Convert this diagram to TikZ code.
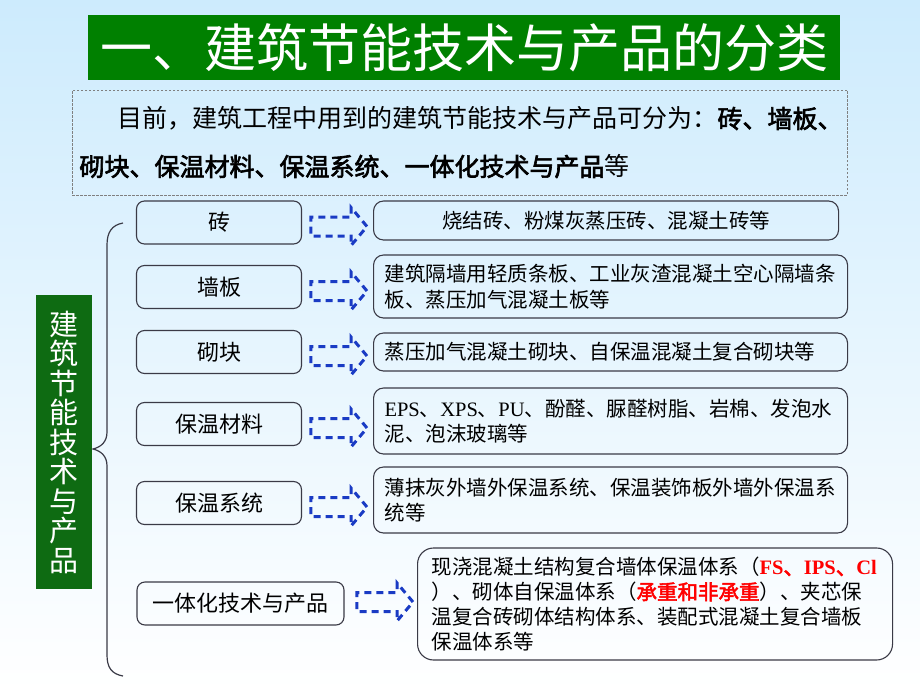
\documentclass[tikz,border=0pt]{standalone}
\usepackage{fontspec}
\setmainfont{Noto Sans CJK SC}[AutoFakeBold=2.5]
\newfontfamily\tnr{Liberation Serif}
\usetikzlibrary{shapes.arrows, positioning}
\definecolor{bgblue}{HTML}{CDEBFD}
\definecolor{titlegreen}{HTML}{008000}
\definecolor{sidegreen}{HTML}{0E6B12}
\definecolor{arrowblue}{HTML}{1A3BC4}
\definecolor{boxgray}{HTML}{3A3A46}
\definecolor{hlred}{HTML}{FF0000}

\begin{document}
\begin{tikzpicture}[x=1pt, y=-1pt,
    item/.style={draw=boxgray, line width=1.1pt, rounded corners=8pt, minimum width=165pt, minimum height=43pt, font=\fontsize{22}{26}\selectfont},
    detail/.style={draw=boxgray, line width=1.1pt, rounded corners=10pt, anchor=west, align=left, inner xsep=11pt, text width=452pt, font=\fontsize{20.5}{25.5}\selectfont},
    dasharrow/.style={single arrow, draw=arrowblue, line width=3pt, dash pattern=on 7pt off 5pt, minimum height=56pt, inner xsep=0pt, inner ysep=8pt, single arrow head extend=9.5pt, single arrow tip angle=100},
]
    \useasboundingbox (0,0) rectangle (920,690);
    \shade[top color=bgblue, bottom color=white] (0,0) rectangle (920,690);

    % title and intro
    \node[fill=titlegreen, text=white, minimum width=752pt, minimum height=65pt, font=\fontsize{52}{52}\selectfont] (title) at (464,47.5) {一、建筑节能技术与产品的分类};
    \node[draw=gray, line width=0.8pt, dash pattern=on 2.5pt off 1.5pt, minimum width=775pt, minimum height=105pt, text width=760pt, align=left, font=\fontsize{25}{48}\selectfont] (intro) at (459.5,142.5)
        {\hspace*{38pt}目前，建筑工程中用到的建筑节能技术与产品可分为：\textbf{砖、墙板、}\\
         \textbf{砌块、保温材料、保温系统、一体化技术与产品}等};

    % left column
    \node[fill=sidegreen, text=white, minimum width=56pt, minimum height=294pt, align=center, font=\fontsize{29}{29.5}\selectfont] (side) at (64,442)
        {建\\筑\\节\\能\\技\\术\\与\\产\\品};
    \draw[boxgray, line width=1.2pt] (123,223) .. controls (112,225) and (107,232) .. (107,245) -- (107,432)
        .. controls (107,442) and (101,447) .. (93,449) .. controls (101,451) and (107,456) .. (107,466)
        -- (107,655) .. controls (107,668) and (112,674) .. (123,676);

    % categories
    \node[item] (brick) at (219,222.5) {砖};
    \node[item] (wallboard) at (219,287) {墙板};
    \node[item] (block) at (219,352) {砌块};
    \node[item] (insmat) at (219,424) {保温材料};
    \node[item] (inssys) at (219,503) {保温系统};
    \node[item, minimum width=207pt] (integ) at (240.5,603.5) {一体化技术与产品};

    % arrows
    \node[dasharrow] (a1) at (335,226.5) {};
    \node[dasharrow] (a2) at (335,291) {};
    \node[dasharrow] (a3) at (335,356) {};
    \node[dasharrow] (a4) at (335,428) {};
    \node[dasharrow] (a5) at (335,507) {};
    \node[dasharrow] (a6) at (381,602) {};

    % details
    \node[detail, align=center, text width=443pt, minimum height=39pt] (brickd) at (373,220.5) {烧结砖、粉煤灰蒸压砖、混凝土砖等};
    \node[detail, minimum height=63pt] (wallboardd) at (373,286.5) {建筑隔墙用轻质条板、工业灰渣混凝土空心隔墙条\\板、蒸压加气混凝土板等};
    \node[detail, minimum height=38pt] (blockd) at (373,352) {蒸压加气混凝土砌块、自保温混凝土复合砌块等};
    \node[detail, minimum height=66pt] (insmatd) at (373,421) {{\tnr EPS}、{\tnr XPS}、{\tnr PU}、酚醛、脲醛树脂、岩棉、发泡水\\泥、泡沫玻璃等};
    \node[detail, minimum height=66pt] (inssysd) at (373,500) {薄抹灰外墙外保温系统、保温装饰板外墙外保温系\\统等};
    \node[detail, inner xsep=14pt, text width=447pt, minimum height=112pt, rounded corners=16pt, font=\fontsize{20.5}{24.7}\selectfont] (integd) at (417,604)
        {现浇混凝土结构复合墙体保温体系（\textcolor{hlred}{\tnr\bfseries FS}\textcolor{hlred}{\textbf{、}}\textcolor{hlred}{\tnr\bfseries IPS}\textcolor{hlred}{\textbf{、}}\textcolor{hlred}{\tnr\bfseries Cl}\\
         ）、砌体自保温体系（\textcolor{hlred}{\textbf{承重和非承重}}）、夹芯保\\
         温复合砖砌体结构体系、装配式混凝土复合墙板\\
         保温体系等};
\end{tikzpicture}
\end{document}
